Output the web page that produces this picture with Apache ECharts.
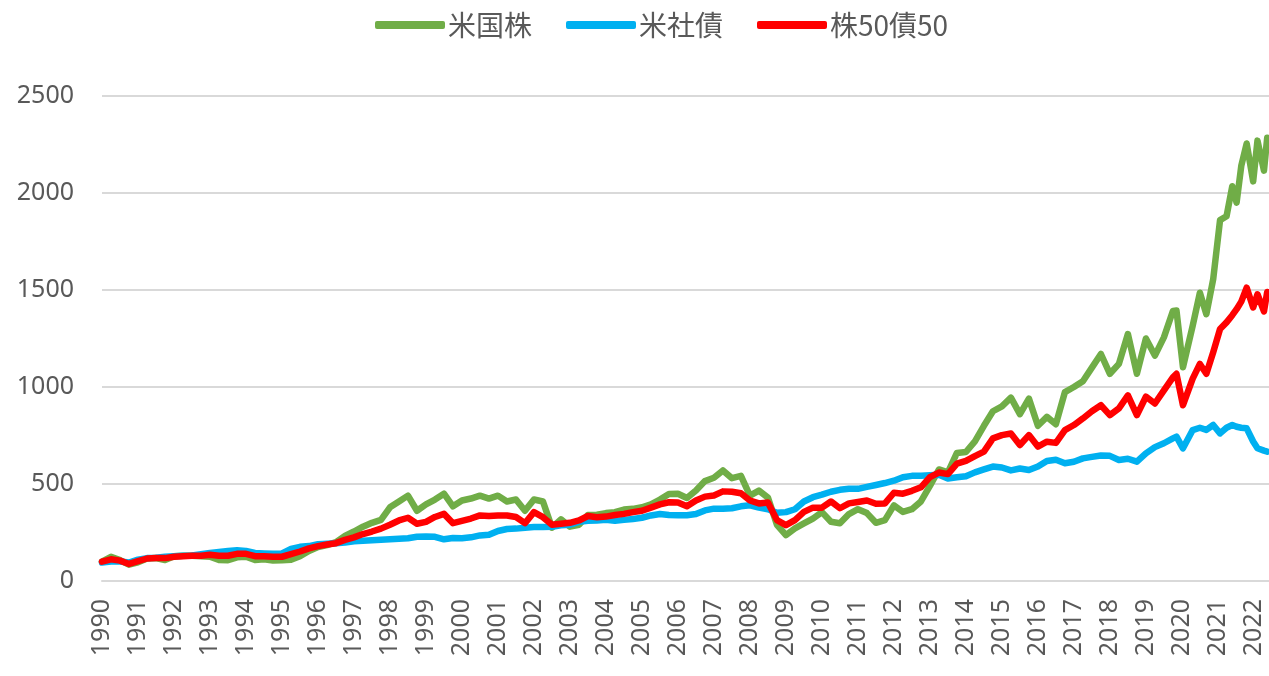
<!DOCTYPE html>
<html>
<head>
<meta charset="utf-8">
<script src="https://cdn.jsdelivr.net/npm/echarts@6/dist/echarts.min.js"></script>
<style>
html,body{margin:0;padding:0;background:#fff;}
#chart{width:1269px;height:676px;}
</style>
</head>
<body>
<div id="chart"></div>
<script>
// Series names
const seriesNames = ['米国株', '米社債', '株50債50'];

// Time points (decimal years): quarterly 1990.00 – 2019.75, then finer points to mid-2022
const quarterlyDates = [];
for (let y = 1990; y <= 2019; y++) { quarterlyDates.push(y, y + 0.25, y + 0.5, y + 0.75); }
const lateDates = [2019.85, 2020.03, 2020.3, 2020.5, 2020.68, 2020.87, 2021.06, 2021.24, 2021.4, 2021.52, 2021.65, 2021.8, 2021.98, 2022.1, 2022.28, 2022.37];
const dates = quarterlyDates.concat(lateDates);

// 米国株 (US stocks)
const usStocks = [
  100, 125, 108, 84,     // 1990
  96, 116, 118, 108,     // 1991
  128, 130, 130, 128,    // 1992
  125, 108, 107, 122,    // 1993
  125, 108, 112, 106,    // 1994
  107, 110, 128, 155,    // 1995
  175, 185, 200, 232,    // 1996
  255, 280, 300, 315,    // 1997
  380, 410, 440, 362,    // 1998
  395, 420, 450, 385,    // 1999
  415, 425, 440, 425,    // 2000
  440, 410, 420, 362,    // 2001
  420, 410, 275, 318,    // 2002
  280, 290, 340, 342,    // 2003
  350, 355, 368, 372,    // 2004
  380, 395, 420, 449,    // 2005
  450, 428, 466, 515,    // 2006
  532, 570, 530, 542,    // 2007
  440, 466, 430, 290,    // 2008
  237, 271, 297, 322,    // 2009
  355, 305, 298, 345,    // 2010
  370, 350, 300, 314,    // 2011
  390, 356, 370, 410,    // 2012
  490, 575, 560, 660,    // 2013
  665, 720, 800, 875,    // 2014
  900, 945, 860, 940,    // 2015
  800, 846, 808, 974,    // 2016
  1000, 1030, 1100, 1170,// 2017
  1068, 1119, 1273, 1068,// 2018
  1250, 1162, 1256, 1392,// 2019
  1394, 1102, 1316, 1486, 1375, 1556, 1860, 1880, 2035, 1950, 2140, 2255, 2060, 2270, 2115, 2285
];

// 米社債 (US corporate bonds)
const usBonds = [
  95, 100, 100, 95,
  110, 118, 120, 125,
  128, 130, 132, 138,
  145, 150, 155, 158,
  155, 145, 142, 140,
  142, 165, 176, 180,
  190, 192, 195, 198,
  205, 208, 210, 213,
  215, 218, 220, 228,
  230, 228, 215, 222,
  220, 225, 235, 238,
  258, 268, 270, 275,
  278, 278, 280, 287,
  290, 305, 310, 312,
  316, 310, 315, 320,
  326, 338, 345, 340,
  339, 339, 345, 364,
  373, 373, 375, 385,
  390, 378, 370, 352,
  355, 370, 410, 432,
  445, 460, 470, 475,
  475, 485, 495, 505,
  517, 535, 542, 543,
  545, 548, 528, 535,
  540, 560, 575, 590,
  585, 570, 580, 572,
  590, 619, 625, 607,
  615, 632, 640, 647,
  645, 624, 630, 615,
  658, 690, 710, 735,
  744, 684, 778, 790, 779, 804, 761, 790, 804, 795, 790, 787, 719, 684, 672, 667
];

// 株50債50 (50/50 mix)
const mix5050 = [
  100, 112, 105, 88,
  102, 116, 118, 118,
  125, 128, 130, 130,
  135, 130, 130, 140,
  140, 128, 128, 125,
  125, 138, 152, 168,
  180, 188, 195, 212,
  225, 242, 255, 270,
  290, 312, 326, 295,
  305, 330, 346, 298,
  310, 322, 338, 335,
  338, 338, 330, 298,
  355, 329, 290, 295,
  300, 312, 335, 329,
  332, 340, 346, 355,
  362, 378, 395, 406,
  405, 385, 415, 435,
  441, 462, 460, 452,
  415, 400, 405, 314,
  288, 314, 356, 378,
  378, 410, 375, 400,
  407, 415, 398, 400,
  455, 450, 465, 483,
  535, 559, 551, 605,
  619, 644, 667, 735,
  752, 760, 701, 752,
  693, 718, 712, 778,
  804, 838, 875, 906,
  855, 890, 957, 855,
  950, 915, 983, 1050,
  1068, 906, 1043, 1119, 1068, 1179, 1299, 1333, 1370, 1401, 1440, 1512, 1410, 1478, 1390, 1490
];

// Axis ticks
const yTicks = [0, 500, 1000, 1500, 2000, 2500];
const xYears = [];
for (let y = 1990; y <= 2022; y++) xYears.push(y);

const colors = ['#70AD47', '#00B0F0', '#FF0000'];
const valuesList = [usStocks, usBonds, mix5050];
const FONT = '"Noto Sans", "Noto Sans CJK JP", sans-serif';

const chart = echarts.init(document.getElementById('chart'));
chart.setOption({
  animation: false,
  color: colors,
  legend: {
    top: 6,
    left: 370,
    itemWidth: 70,
    itemHeight: 8,
    itemGap: 34,
    icon: 'roundRect',
    textStyle: { fontSize: 28, color: '#595959', fontFamily: '"Noto Sans CJK JP", sans-serif', padding: [0, 0, 0, -2] },
    data: seriesNames
  },
  grid: { left: 102, right: 0, top: 96, bottom: 95, containLabel: false },
  xAxis: {
    type: 'value',
    min: 1990,
    max: 2022.42,
    interval: 1,
    axisLine: { show: true, lineStyle: { color: '#d9d9d9', width: 2 } },
    axisTick: { show: false },
    splitLine: { show: false },
    axisLabel: {
      rotate: 90,
      margin: 18,
      fontSize: 25,
      color: '#595959',
      fontFamily: FONT,
      showMaxLabel: false,
      formatter: v => (xYears.indexOf(Math.round(v)) >= 0 && Math.abs(v - Math.round(v)) < 1e-6) ? String(Math.round(v)) : ''
    }
  },
  yAxis: {
    type: 'value',
    min: yTicks[0],
    max: yTicks[yTicks.length - 1],
    interval: 500,
    axisLine: { show: false },
    axisTick: { show: false },
    splitLine: { show: true, lineStyle: { color: '#d9d9d9', width: 2 } },
    axisLabel: { fontSize: 25, color: '#595959', fontFamily: FONT, margin: 28, formatter: v => String(v) }
  },
  series: seriesNames.map((name, i) => ({
    name: name,
    type: 'line',
    showSymbol: false,
    symbol: 'none',
    lineStyle: { width: 6.5, color: colors[i], cap: 'round', join: 'round' },
    itemStyle: { color: colors[i] },
    data: dates.map((d, j) => [d, valuesList[i][j]])
  }))
});
</script>
</body>
</html>
